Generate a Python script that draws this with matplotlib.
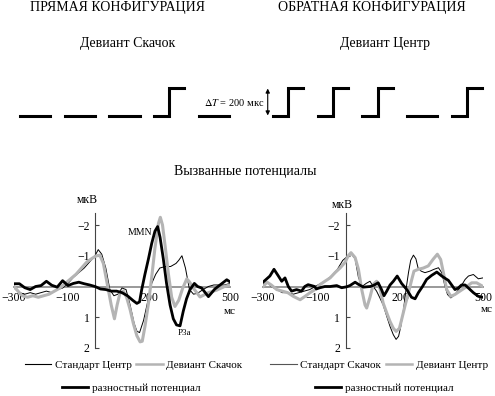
import matplotlib
matplotlib.use("Agg")
import matplotlib.pyplot as plt
from matplotlib.lines import Line2D

plt.rcParams['font.family'] = ['Liberation Serif', 'DejaVu Serif']
plt.rcParams['mathtext.fontset'] = 'stix'

# ---------------- data ----------------
# stimulus sequences: 1 = step (jump), 0 = flat
stim_left = [0, 0, 0, 1, 0]
stim_right = [1, 1, 1, 0, 1]

# left panel (direct configuration)
tL_std = [-300, -280, -260, -240, -220, -200, -180, -160, -140, -120, -100, -80, -60, -40, -20, 0, 12, 25, 40, 55,
          70, 85, 100, 115, 130, 145, 155, 165, 180, 195, 210, 225, 240, 260, 280, 300, 310, 322, 335, 350,
          365, 380, 400, 420, 440, 460, 480, 500]
vL_std = [0.05, 0.2, 0.25, 0.2, 0.25, 0.2, 0.15, 0.2, 0.1, 0.05, -0.1, -0.3, -0.45, -0.6, -0.8, -1.0, -1.2, -1.05, -0.6, 0.1,
          0.3, 0.25, 0.05, 0.1, 0.6, 1.2, 1.45, 1.5, 1.1, 0.5, -0.1, -0.4, -0.6, -0.65, -0.65, -0.75, -0.85, -1.0, -0.6, 0.1,
          0.25, 0.22, 0.1, 0.0, -0.05, -0.05, -0.05, -0.1]

tL_dev = [-300, -285, -270, -250, -230, -210, -190, -170, -150, -130, -110, -90, -70, -50, -30, -10, 5, 18, 31, 45,
          60, 72, 82, 93, 105, 117, 130, 142, 155, 167, 175, 185, 198, 210, 222, 235, 242, 250, 260, 272,
          284, 296, 310, 325, 340, 350, 364, 389, 420, 450, 480, 500]
vL_dev = [0.0, 0.15, 0.3, 0.35, 0.3, 0.35, 0.3, 0.25, 0.15, 0.05, -0.1, -0.25, -0.4, -0.6, -0.8, -0.92, -1.0, -1.02, -0.75, -0.1,
          0.6, 1.05, 0.6, 0.2, 0.15, 0.35, 0.75, 1.2, 1.6, 1.8, 1.78, 1.3, 0.55, -0.3, -1.25, -2.05, -2.25, -2.0, -1.3, -0.4,
          0.35, 0.65, 0.45, 0.05, -0.25, -0.15, 0.05, 0.34, 0.2, 0.12, 0.0, -0.05]

tL_diff = [-300, -280, -260, -240, -220, -200, -180, -160, -140, -120, -100, -80, -60, -40, -20, 0, 20, 40, 60, 80,
           100, 120, 140, 155, 165, 173, 185, 198, 210, 222, 232, 241, 253, 265, 278, 290, 302, 315, 327, 339,
           352, 368, 380, 395, 420, 444, 469, 488, 500]
vL_diff = [-0.09, -0.09, 0.04, 0.1, 0.0, -0.03, -0.17, -0.04, 0.02, -0.19, -0.03, -0.1, -0.14, -0.09, -0.05, 0.0, 0.08, 0.1, 0.15, 0.15,
           0.2, 0.3, 0.45, 0.55, 0.5, 0.1, -0.4, -0.9, -1.4, -1.8, -1.95, -1.6, -0.9, -0.1, 0.6, 1.05, 1.25, 1.28, 0.8, 0.4,
           0.1, -0.1, 0.0, 0.05, 0.33, 0.08, -0.09, -0.22, -0.15]

# right panel (inverse configuration)
tR_std = [-300, -285, -270, -250, -230, -210, -190, -170, -150, -130, -110, -90, -70, -50, -30, -10, 10, 22, 35, 47,
          60, 75, 89, 101, 113, 125, 137, 150, 162, 174, 184, 193, 201, 211, 220, 229, 237, 247, 256, 264,
          275, 289, 307, 322, 338, 350, 362, 371, 383, 398, 416, 435, 447, 465, 483, 500]
vR_std = [-0.05, -0.15, 0.0, 0.1, 0.2, 0.2, 0.25, 0.2, 0.15, 0.1, 0.0, -0.1, -0.2, -0.35, -0.55, -0.85, -1.0, -1.05, -0.9, -0.3,
          0.0, -0.1, -0.17, 0.0, 0.15, 0.37, 0.6, 0.97, 1.3, 1.57, 1.72, 1.62, 1.3, 0.75, 0.1, -0.45, -0.85, -1.02, -0.9, -0.6,
          -0.5, -0.45, -0.5, -0.56, -0.61, -0.45, 0.0, 0.26, 0.37, 0.26, 0.05, -0.23, -0.34, -0.39, -0.25, -0.28]

tR_dev = [-300, -285, -270, -250, -230, -210, -190, -165, -147, -129, -111, -93, -75, -56, -38, -20, -2, 10, 20, 35,
          47, 59, 71, 77, 89, 101, 113, 125, 137, 150, 162, 174, 184, 196, 204, 216, 229, 241, 249, 265,
          283, 301, 319, 334, 346, 356, 368, 383, 398, 416, 441, 459, 477, 500]
vR_dev = [0.0, -0.14, -0.05, 0.1, 0.15, 0.2, 0.32, 0.43, 0.32, 0.2, 0.1, -0.06, -0.17, -0.28, -0.45, -0.6, -0.78, -1.0, -1.1, -0.94,
          -0.56, 0.1, 0.6, 0.7, 0.35, -0.07, -0.17, 0.05, 0.54, 0.86, 1.14, 1.36, 1.46, 1.36, 1.08, 0.64, 0.2, -0.23, -0.5, -0.56,
          -0.6, -0.67, -0.89, -1.05, -0.88, -0.45, 0.1, 0.32, 0.26, 0.15, 0.0, -0.12, -0.12, 0.0]

tR_diff = [-300, -275, -260, -244, -232, -220, -208, -196, -178, -160, -148, -136, -124, -112, -106, -93, -75, -56, -32, -14,
           4, 16, 35, 47, 65, 90, 105, 119, 131, 140, 150, 162, 174, 188, 204, 223, 240, 253, 265, 280,
           295, 313, 332, 350, 365, 374, 386, 398, 410, 422, 435, 447, 465, 483, 500]
vR_diff = [-0.14, -0.34, -0.56, -0.34, -0.17, -0.28, 0.0, 0.15, 0.1, 0.15, 0.0, -0.06, -0.03, 0.0, 0.08, 0.04, 0.0, 0.0, -0.03, 0.04,
           0.01, -0.03, -0.14, -0.07, 0.02, 0.0, -0.05, -0.12, 0.1, 0.3, 0.15, -0.05, -0.17, -0.34, -0.1, 0.1, 0.35, 0.4, 0.2, 0.0,
           -0.23, -0.36, -0.47, -0.34, -0.25, -0.2, -0.05, 0.1, 0.05, -0.05, -0.05, 0.05, 0.2, 0.32, 0.35]

xticks = [-300, -100, 200, 500]
xtick_labels = ['\u2212300', '\u2212100', '200', '500']
yticks = [-2, -1, 1, 2]
ytick_labels = ['\u22122', '\u22121', '1', '2']

# ---------------- layout ----------------
W, H = 495, 396
GRAY = '#b4b4b4'
fig = plt.figure(figsize=(W / 100, H / 100), dpi=100)


def fx(px):
    return px / W


def fy(py):
    return 1 - py / H


# titles
fig.text(fx(118), fy(8), 'ПРЯМАЯ КОНФИГУРАЦИЯ', ha='center', va='center', fontsize=10)
fig.text(fx(372), fy(8), 'ОБРАТНАЯ КОНФИГУРАЦИЯ', ha='center', va='center', fontsize=10)
fig.text(fx(128), fy(43), 'Девиант Скачок', ha='center', va='center', fontsize=10)
fig.text(fx(385), fy(43), 'Девиант Центр', ha='center', va='center', fontsize=10)
fig.text(fx(245), fy(172), 'Вызванные потенциалы', ha='center', va='center', fontsize=10)


# stimulus schematics
def draw_stim(left_px, seq):
    ax = fig.add_axes([fx(left_px), fy(116), 209 / W, 28 / H])
    ax.set_xlim(0, 4.674)
    ax.set_ylim(0, 1)
    ax.axis('off')
    w = 0.674
    for i, s in enumerate(seq):
        if s:
            ax.plot([i, i + w / 2, i + w / 2, i + w], [0, 0, 1, 1], color='k', lw=2.2,
                    solid_joinstyle='miter', clip_on=False)
        else:
            ax.plot([i, i + w], [0, 0], color='k', lw=2.2, clip_on=False)
    return ax


draw_stim(20, stim_left)
axSR = draw_stim(273, stim_right)
axSR.annotate('', xy=(-0.118, 1.08), xytext=(-0.118, -0.08), xycoords='data',
              arrowprops=dict(arrowstyle='<|-|>', color='k', lw=0.8, mutation_scale=6),
              annotation_clip=False)
axSR.text(-0.2, 0.5, r'$\Delta T$ = 200 мкс', ha='right', va='center', fontsize=7.5)


# ERP panels
def erp_axes(left_px, right_px):
    top_px, bot_px = 212.7, 348
    ax = fig.add_axes([fx(left_px), fy(bot_px), (right_px - left_px) / W, (bot_px - top_px) / H])
    ax.set_xlim(-300, 500)
    ax.set_ylim(2, -2.4)
    ax.patch.set_alpha(0)
    for s in ('top', 'right'):
        ax.spines[s].set_visible(False)
    ax.spines['left'].set_position(('data', 0))
    ax.spines['left'].set_color('#444')
    ax.spines['left'].set_linewidth(0.8)
    ax.spines['bottom'].set_position(('data', 0))
    ax.spines['bottom'].set_color('#999')
    ax.spines['bottom'].set_linewidth(1.4)
    ax.set_xticks(xticks)
    ax.set_xticklabels(xtick_labels)
    ax.set_yticks(yticks)
    ax.set_yticklabels(ytick_labels)
    ax.tick_params(axis='x', length=0, pad=4, labelsize=8.5)
    ax.tick_params(axis='y', direction='in', length=3, width=0.8, color='#444', pad=4, labelsize=8.5)
    return ax


axL = erp_axes(14, 230)
axL.plot(tL_std, vL_std, color='k', lw=0.7, zorder=3)
axL.plot(tL_dev, vL_dev, color=GRAY, lw=2.2, zorder=3)
axL.plot(tL_diff, vL_diff, color='k', lw=2.0, zorder=4)
axL.text(211, -1.74, 'MMN', ha='right', va='center', fontsize=7)
axL.text(307, 1.51, 'P3a', ha='left', va='center', fontsize=6.5)

axR = erp_axes(263, 483)
axR.plot(tR_std, vR_std, color='k', lw=0.7, zorder=3)
axR.plot(tR_dev, vR_dev, color=GRAY, lw=2.2, zorder=3)
axR.plot(tR_diff, vR_diff, color='k', lw=2.0, zorder=4)

fig.text(fx(87), fy(200), 'мкВ', ha='center', va='center', fontsize=8.5)
fig.text(fx(342), fy(205), 'мкВ', ha='center', va='center', fontsize=8.5)
fig.text(fx(230), fy(311), 'мс', ha='center', va='center', fontsize=8)
fig.text(fx(487), fy(310), 'мс', ha='center', va='center', fontsize=8)

# legends
leg_kw = dict(loc='center', frameon=False, fontsize=8, handlelength=2.4, handletextpad=0.3,
              columnspacing=0.4, borderpad=0, borderaxespad=0)
fig.legend([Line2D([], [], color='k', lw=0.8), Line2D([], [], color=GRAY, lw=1.8)],
           ['Стандарт Центр', 'Девиант Скачок'], ncol=2, bbox_to_anchor=(fx(133.5), fy(365)), **leg_kw)
fig.legend([Line2D([], [], color='#555', lw=0.8), Line2D([], [], color=GRAY, lw=1.8)],
           ['Стандарт Скачок', 'Девиант Центр'], ncol=2, bbox_to_anchor=(fx(379), fy(365)), **leg_kw)
fig.legend([Line2D([], [], color='k', lw=2.0)], ['разностный потенциал'],
           bbox_to_anchor=(fx(131), fy(388)), **leg_kw)
fig.legend([Line2D([], [], color='k', lw=2.0)], ['разностный потенциал'],
           bbox_to_anchor=(fx(384), fy(388)), **leg_kw)

fig.savefig('out.png', dpi=100)
